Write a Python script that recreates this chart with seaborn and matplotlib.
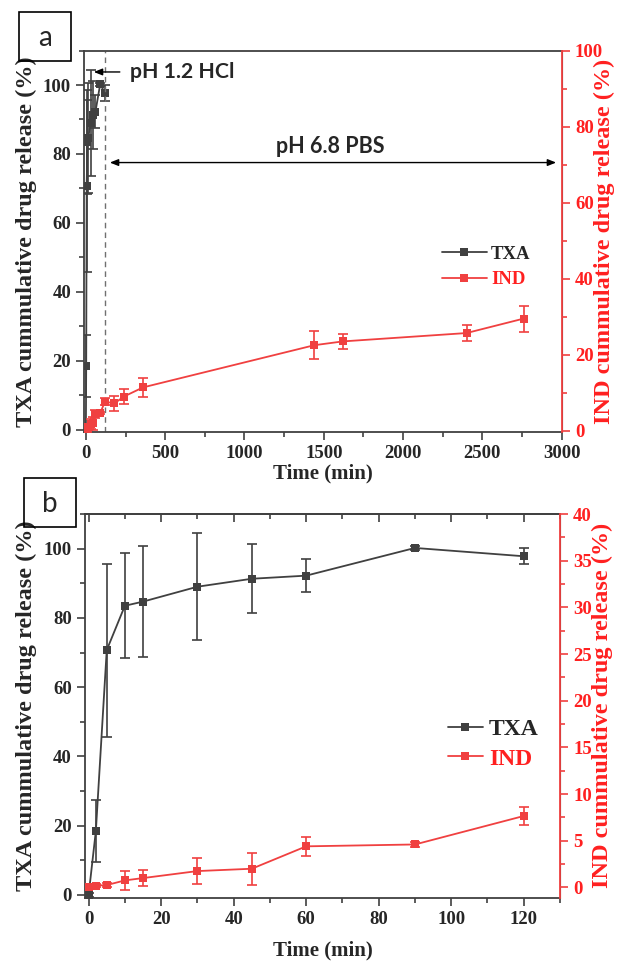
import seaborn as sns
import matplotlib.pyplot as plt
from matplotlib.patches import Rectangle
from matplotlib.lines import Line2D
from matplotlib.ticker import MultipleLocator

# values
t_txa = [0, 2, 5, 10, 15, 30, 45, 60, 90, 120]
txa = [0, 18.5, 70.7, 83.5, 84.7, 89.0, 91.3, 92.2, 100.2, 97.8]
txa_err = [0.5, 9.0, 25.0, 15.2, 16.0, 15.5, 10.0, 4.8, 0.5, 2.3]

t_ind = [0, 2, 5, 10, 15, 30, 45, 60, 90, 120, 180, 240, 360, 1440, 1620, 2400, 2760]
ind = [0, 0.2, 0.25, 0.75, 1.0, 1.75, 2.0, 4.4, 4.6, 7.65, 7.2, 9.0, 11.4, 22.5, 23.5, 25.7, 29.5]
ind_err = [0.1, 0.2, 0.2, 1.0, 0.85, 1.4, 1.7, 1.0, 0.3, 1.0, 2.0, 2.0, 2.6, 3.7, 2.0, 2.0, 3.4]

GREY = "#404040"
RED = "#f04040"
LABRED = "#ff2020"
SERIF = "Liberation Serif"
SANS = "Lato"

sns.set_style("ticks")
plt.rcParams["font.family"] = [SERIF, "DejaVu Sans"]
plt.rcParams["font.weight"] = "bold"

fig = plt.figure(figsize=(6.3, 9.64), dpi=100)
ax_a = fig.add_axes([0.1338, 0.5516, 0.7578, 0.3959])
ax_b = fig.add_axes([0.1349, 0.0688, 0.7540, 0.3980])


def draw_panel(ax, n_ind, xlim, ylim_r, xmaj, xmin, rmaj, rmin, leg_pos,
               leg_size, hlen, lspace, xpad):
    ax2 = ax.twinx()
    tt, yy, ee = t_txa, txa, txa_err
    ti, yi, ei = t_ind[:n_ind], ind[:n_ind], ind_err[:n_ind]

    sns.lineplot(x=tt, y=yy, ax=ax, color=GREY, marker="s", markersize=5.5,
                 markeredgewidth=0, linewidth=1.3)
    ax.errorbar(tt, yy, yerr=ee, fmt="none", ecolor=GREY, elinewidth=1.2,
                capsize=3.5, capthick=1.2)
    sns.lineplot(x=ti, y=yi, ax=ax2, color=RED, marker="s", markersize=5.5,
                 markeredgewidth=0, linewidth=1.3)
    ax2.errorbar(ti, yi, yerr=ei, fmt="none", ecolor=RED, elinewidth=1.2,
                 capsize=3.5, capthick=1.2)

    ax.set_xlim(*xlim)
    ax.set_ylim(-0.8, 110)
    ax2.set_ylim(*ylim_r)
    ax.xaxis.set_major_locator(MultipleLocator(xmaj))
    ax.xaxis.set_minor_locator(MultipleLocator(xmin))
    ax.yaxis.set_major_locator(MultipleLocator(20))
    ax.yaxis.set_minor_locator(MultipleLocator(10))
    ax2.yaxis.set_major_locator(MultipleLocator(rmaj))
    ax2.yaxis.set_minor_locator(MultipleLocator(rmin))

    for sp in ["left", "top", "bottom"]:
        ax.spines[sp].set_color(GREY)
        ax.spines[sp].set_linewidth(1.3)
    ax2.spines["right"].set_color(RED)
    ax2.spines["right"].set_linewidth(1.3)
    for sp in ["left", "top", "bottom"]:
        ax2.spines[sp].set_visible(False)

    ax.tick_params(axis="both", which="major", direction="out", length=6,
                   width=1.2, color=GREY, labelsize=13.5, pad=3.5)
    ax.tick_params(axis="both", which="minor", direction="out", length=3.5,
                   width=1.2, color=GREY)
    ax2.tick_params(axis="y", which="major", direction="out", length=6,
                    width=1.2, color=RED, labelcolor=LABRED, labelsize=13.5,
                    pad=3.5)
    ax2.tick_params(axis="y", which="minor", direction="out", length=3.5,
                    width=1.2, color=RED)
    for lab in ax.get_xticklabels() + ax.get_yticklabels() + ax2.get_yticklabels():
        lab.set_fontweight("bold")

    ax.set_xlabel("Time (min)", fontsize=15, fontweight="bold", labelpad=xpad)
    ax.set_ylabel("TXA cummulative drug release (%)", fontsize=17.5,
                  fontweight="bold")
    ax.yaxis.set_label_coords(-0.100, 0.5)
    ax2.set_ylabel("IND cummulative drug release (%)", fontsize=17.5,
                   fontweight="bold", color=LABRED)
    ax2.yaxis.set_label_coords(1.068, 0.5)

    handles = [
        Line2D([], [], color=GREY, marker="s", markersize=5.5, linewidth=1.3,
               markeredgewidth=0),
        Line2D([], [], color=RED, marker="s", markersize=5.5, linewidth=1.3,
               markeredgewidth=0),
    ]
    leg = ax2.legend(handles, ["TXA", "IND"], loc="upper left",
                     bbox_to_anchor=leg_pos, bbox_transform=fig.transFigure,
                     frameon=False, handlelength=hlen,
                     handletextpad=0.25, borderpad=0, labelspacing=lspace,
                     prop={"family": SERIF, "weight": "bold", "size": leg_size})
    leg.get_texts()[1].set_color(LABRED)
    return ax2


draw_panel(ax_a, len(t_ind), (-10, 3000), (-0.4, 100), 500, 250, 20, 10,
           (0.686, 0.755), 13.5, 2.4, 0.45, 0.5)
draw_panel(ax_b, len(t_txa), (-1, 130), (-1.1, 40), 20, 10, 5, 2.5,
           (0.692, 0.267), 17, 1.5, 0.35, 9)

# panel b also carries inward ticks on the top edge
top_b = ax_b.secondary_xaxis("top")
top_b.xaxis.set_major_locator(MultipleLocator(20))
top_b.xaxis.set_minor_locator(MultipleLocator(10))
top_b.tick_params(which="major", direction="in", length=6, width=1.2,
                  color=GREY, labeltop=False)
top_b.tick_params(which="minor", direction="in", length=3.5, width=1.2,
                  color=GREY)
top_b.spines["top"].set_color(GREY)
top_b.spines["top"].set_linewidth(1.3)

# pH annotations on panel a
ax_a.axvline(120, color="#707070", linestyle=(0, (4, 3)), linewidth=1.0)
ax_a.annotate("", xy=(50, 103.8), xytext=(214, 103.8),
              arrowprops=dict(arrowstyle="-|>,head_length=0.5,head_width=0.2",
                              color="black", lw=1.0, shrinkA=0, shrinkB=0))
ax_a.text(278, 103.8, "pH 1.2 HCl", fontsize=15.3, fontweight="bold",
          family=SANS, ha="left", va="center")
ax_a.annotate("", xy=(151, 77.5), xytext=(2965, 77.5),
              arrowprops=dict(arrowstyle="<|-|>,head_length=0.5,head_width=0.2",
                              color="black", lw=1.0, shrinkA=0, shrinkB=0))
ax_a.text(1540, 82.3, "pH 6.8 PBS", fontsize=15.5, fontweight="bold",
          family=SANS, ha="center", va="center")

# boxed panel letters
for (x0, y0, letter) in [(19, 12, "a"), (24, 478, "b")]:
    w, h = 52, 49
    fig.patches.append(Rectangle((x0 / 630, 1 - (y0 + h) / 964), w / 630, h / 964,
                                 transform=fig.transFigure, fill=False,
                                 edgecolor="black", linewidth=1.2))
    fig.text((x0 + w / 2) / 630, 1 - (y0 + h / 2 + 2) / 964, letter,
             fontsize=20, family=SANS, fontweight="normal",
             ha="center", va="center")

fig.savefig("out.png", dpi=100)
